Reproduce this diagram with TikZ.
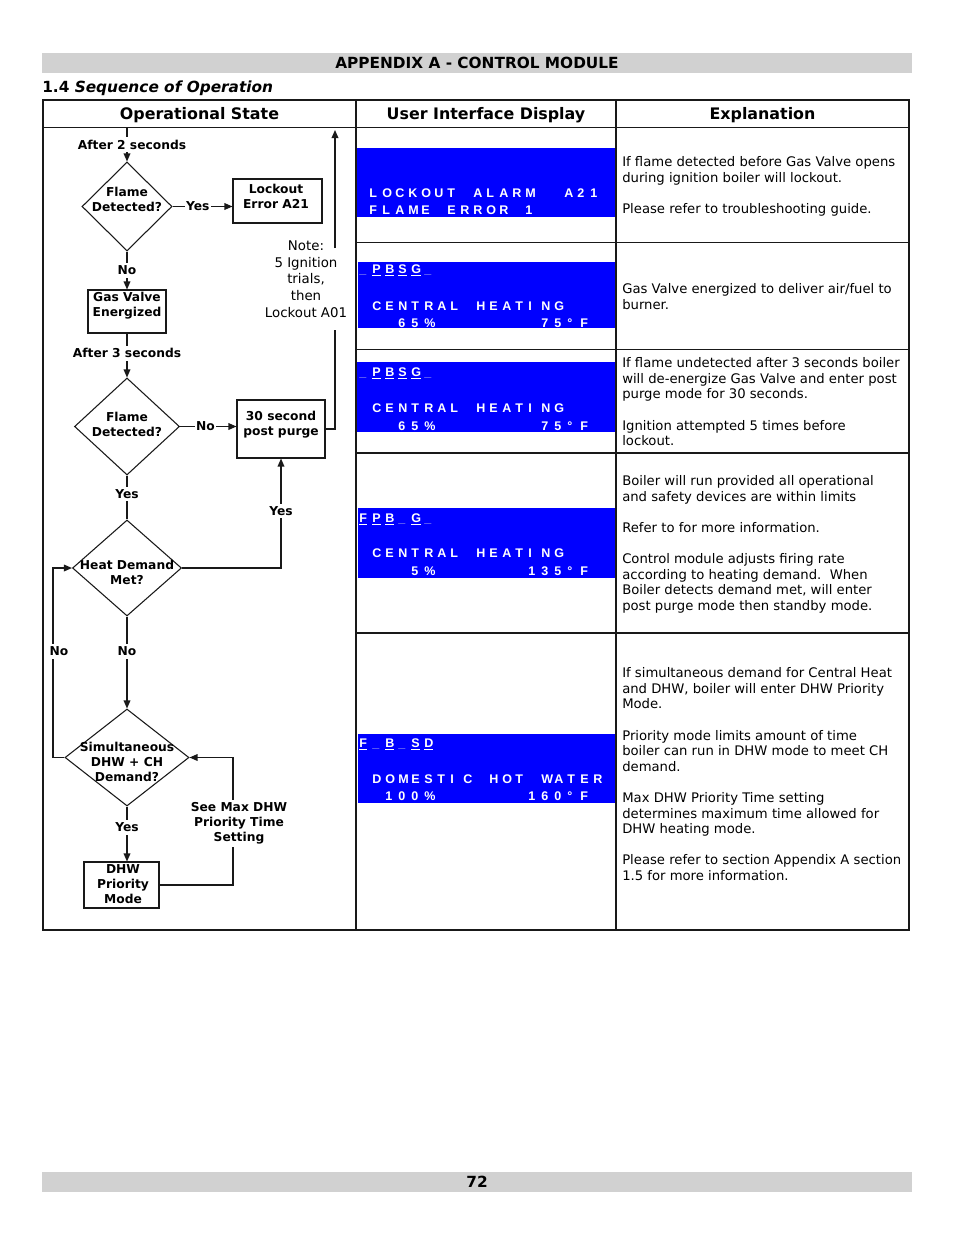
\documentclass[tikz,border=0pt]{standalone}
\usepackage{fontspec}
\setmainfont{DejaVu Sans}[ItalicFont={DejaVu Sans Oblique},BoldFont={DejaVu Sans Bold},BoldItalicFont={DejaVu Sans Bold Oblique}]
\newfontfamily\lcdfam{Liberation Sans}
\usetikzlibrary{shapes.geometric,arrows.meta}
\definecolor{barc}{gray}{0.82}
\definecolor{lcdblue}{RGB}{0,0,255}
\definecolor{lcdgray}{RGB}{175,175,235}
\ExplSyntaxOn
\NewDocumentCommand\lcd{m}{\tl_map_inline:nn {#1} {\makebox[9.75pt][l]{##1}}}
\ExplSyntaxOff
\newcommand\us{{\color{lcdgray}\_}}
\newcommand\lcdu[1]{\underline{#1}}
\newcommand\hdrfont{\fontsize{11.5pt}{14pt}\selectfont\bfseries}
\newcommand\colfont{\fontsize{11.9pt}{14pt}\selectfont\bfseries}
\newcommand\flowfont{\fontsize{9.2pt}{11.25pt}\selectfont\bfseries}
\newcommand\explfont{\fontsize{9.9pt}{11.7pt}\selectfont}
\newcommand\notefont{\fontsize{10pt}{12.5pt}\selectfont}
\newcommand\lcdf{\lcdfam\bfseries\fontsize{9.4pt}{12pt}\selectfont}
\begin{document}
\begin{tikzpicture}[x=0.75pt,y=-0.75pt,
  tbl/.style={draw=black!90,line width=1.3pt},
  flow/.style={draw=black!90,line width=0.9pt},
  arr/.style={-{Triangle[length=6pt,width=5pt]}},
  boxn/.style={draw=black!90,line width=0.8pt,inner sep=0pt},
  dia/.style={diamond,draw=black!90,line width=0.8pt,inner sep=0pt},
  ftxt/.style={font=\flowfont,align=center,inner sep=0pt},
  lbl/.style={font=\flowfont,align=center,fill=white,inner xsep=1pt,inner ysep=2pt},
  expl/.style={font=\explfont,align=left,anchor=base west,inner sep=0pt},
  lcdt/.style={font=\lcdf,text=white,anchor=base west,inner sep=0pt},
  coltxt/.style={font=\colfont,anchor=base,inner sep=0pt}]
\useasboundingbox (0,0) rectangle (954,1235);
\fill[white] (0,0) rectangle (954,1235);

% header / footer bars
\fill[barc] (42,53) rectangle (912,73);
\node[font=\hdrfont,anchor=base,inner sep=0pt] (title) at (477,68.6) {APPENDIX A - CONTROL MODULE};
\node[font=\hdrfont,anchor=base west,inner sep=0pt] (sec) at (42,92.6) {1.4 \textit{Sequence of Operation}};
\fill[barc] (42,1172) rectangle (912,1192);
\node[font=\hdrfont,anchor=base,inner sep=0pt] (pg) at (477,1187.5) {72};

% display panels
\fill[lcdblue] (356,148) rectangle (616,217);
\fill[lcdblue] (358,262) rectangle (616,328);
\fill[lcdblue] (356,362) rectangle (616,432);
\fill[lcdblue] (358,508) rectangle (616,578);
\fill[lcdblue] (358,734) rectangle (616,803);

% table
\draw[tbl] (43,100) rectangle (909,930);
\draw[tbl] (43,127.5) -- (909,127.5);
\draw[tbl] (356,100) -- (356,930);
\draw[tbl] (616,100) -- (616,930);
\foreach \y in {242.5,349.5,453,633} \draw[tbl] (356,\y) -- (909,\y);
\node[coltxt] (h1) at (199.5,119) {Operational State};
\node[coltxt] (h2) at (486,119) {User Interface Display};
\node[coltxt] (h3) at (762.5,119) {Explanation};

% display texts
\node[lcdt] (l1a) at (369,197) {\lcd{LOCKOUT~ALARM~~A21}};
\node[lcdt] (l1b) at (369,214) {\lcd{FLAME~ERROR~1}};
\node[lcdt] (l2a) at (359,273) {\lcd{\us{\lcdu P}{\lcdu B}{\lcdu S}{\lcdu G}\us}};
\node[lcdt] (l2b) at (359,310) {\lcd{~CENTRAL~HEATING}};
\node[lcdt] (l2c) at (359,327) {\lcd{~~~65\%~~~~~~~~75°F}};
\node[lcdt] (l3a) at (359,376) {\lcd{\us{\lcdu P}{\lcdu B}{\lcdu S}{\lcdu G}\us}};
\node[lcdt] (l3b) at (359,412) {\lcd{~CENTRAL~HEATING}};
\node[lcdt] (l3c) at (359,430) {\lcd{~~~65\%~~~~~~~~75°F}};
\node[lcdt] (l4a) at (359,522) {\lcd{{\lcdu F}{\lcdu P}{\lcdu B}\us{\lcdu G}\us}};
\node[lcdt] (l4b) at (359,557) {\lcd{~CENTRAL~HEATING}};
\node[lcdt] (l4c) at (359,575) {\lcd{~~~~5\%~~~~~~~135°F}};
\node[lcdt] (l5a) at (359,747) {\lcd{{\lcdu F}\us{\lcdu B}\us{\lcdu S}{\lcdu D}}};
\node[lcdt] (l5b) at (359,783) {\lcd{~DOMESTIC~HOT~WATER}};
\node[lcdt] (l5c) at (359,800) {\lcd{~~100\%~~~~~~~160°F}};

% explanations (anchor = baseline of the last line)
\node[expl] (e1) at (622,213.5) {If flame detected before Gas Valve opens\\during ignition boiler will lockout.\\[11.7pt]Please refer to troubleshooting guide.};
\node[expl] (e2) at (622,309) {Gas Valve energized to deliver air/fuel to\\burner.};
\node[expl] (e3) at (622,445.7) {If flame undetected after 3 seconds boiler\\will de-energize Gas Valve and enter post\\purge mode for 30 seconds.\\[11.7pt]Ignition attempted 5 times before\\lockout.};
\node[expl] (e4) at (622,610.5) {Boiler will run provided all operational\\and safety devices are within limits\\[11.7pt]Refer to for more information.\\[11.7pt]Control module adjusts firing rate\\according to heating demand.\ \ When\\Boiler detects demand met, will enter\\post purge mode then standby mode.};
\node[expl] (e5) at (622,880.5) {If simultaneous demand for Central Heat\\and DHW, boiler will enter DHW Priority\\Mode.\\[11.7pt]Priority mode limits amount of time\\boiler can run in DHW mode to meet CH\\demand.\\[11.7pt]Max DHW Priority Time setting\\determines maximum time allowed for\\DHW heating mode.\\[11.7pt]Please refer to section Appendix A section\\1.5 for more information.};

% flowchart
\coordinate (top) at (127,128);
\node[dia,minimum width=67.5pt,minimum height=66.75pt] (d1) at (127,206.5) {};
\node[ftxt] (d1t) at (127,199) {Flame\\Detected?};
\node[boxn,minimum width=66.75pt,minimum height=33pt] (lk) at (277.5,201) {};
\node[ftxt] (lkt) at (276,196.5) {Lockout\\Error A21};
\node[boxn,minimum width=58.5pt,minimum height=32.25pt] (gv) at (127,311.5) {};
\node[ftxt] (gvt) at (127,306) {Gas Valve\\Energized};
\node[dia,minimum width=78.75pt,minimum height=72.75pt] (d2) at (127,426.5) {};
\node[ftxt] (d2t) at (127,424) {Flame\\Detected?};
\node[boxn,minimum width=66pt,minimum height=43.5pt] (pp) at (281,429) {};
\node[ftxt] (ppt) at (281,424.5) {30 second\\post purge};
\node[dia,minimum width=81.75pt,minimum height=72pt] (d3) at (127,568) {};
\node[ftxt] (d3t) at (127,572) {Heat Demand\\Met?};
\node[dia,minimum width=93pt,minimum height=72.75pt] (d4) at (127,757.5) {};
\node[ftxt] (d4t) at (127,762) {Simultaneous\\DHW + CH\\Demand?};
\node[boxn,minimum width=56.25pt,minimum height=34.5pt] (dhw) at (121.5,885) {};
\node[ftxt] (dhwt) at (123,884) {DHW\\Priority\\Mode};

\draw[flow,arr] (top) -- node[lbl,xshift=3.75pt]{After 2 seconds} (d1.north);
\draw[flow,arr] (d1.east) -- node[lbl,pos=0.42]{Yes} (d1.east -| lk.west);
\draw[flow,arr] (d1.south) -- node[lbl]{No} (gv.north);
\draw[flow,arr] (gv.south) -- node[lbl,pos=0.45]{After 3 seconds} (d2.north);
\draw[flow,arr] (d2.east) -- node[lbl,pos=0.45]{No} (d2.east -| pp.west);
\draw[flow] (d2.south) -- node[lbl,pos=0.42]{Yes} (d3.north);
\draw[flow,arr] (d3.east) -| node[lbl,pos=0.76]{Yes} (pp.south);
\draw[flow,arr] (d3.south) -- node[lbl,pos=0.38]{No} (d4.north);
\draw[flow,arr] (d4.south) -- node[lbl,pos=0.38]{Yes} (d4.south |- dhw.north);
\coordinate (ll) at (53,757.5);
\draw[flow,arr] (d4.west) -- (ll) |- node[lbl,pos=0.28,xshift=4.5pt]{No} (d3.west);
\coordinate (rl) at (233,757.5);
\draw[flow,arr] (dhw.east) -| node[lbl,pos=0.743,xshift=4.5pt]{See Max DHW\\Priority Time\\Setting} (rl) -- (d4.east);
\coordinate (nb) at (335,330);
\coordinate (nt) at (335,248);
\coordinate (ntop) at (335,130);
\draw[flow] (pp.east) -| (nb);
\draw[flow,arr] (nt) -- (ntop);
\node[font=\notefont,align=center,anchor=base,inner sep=0pt] (note) at (306,317.3) {Note:\\5 Ignition\\trials,\\then\\Lockout A01};
\end{tikzpicture}
\end{document}
